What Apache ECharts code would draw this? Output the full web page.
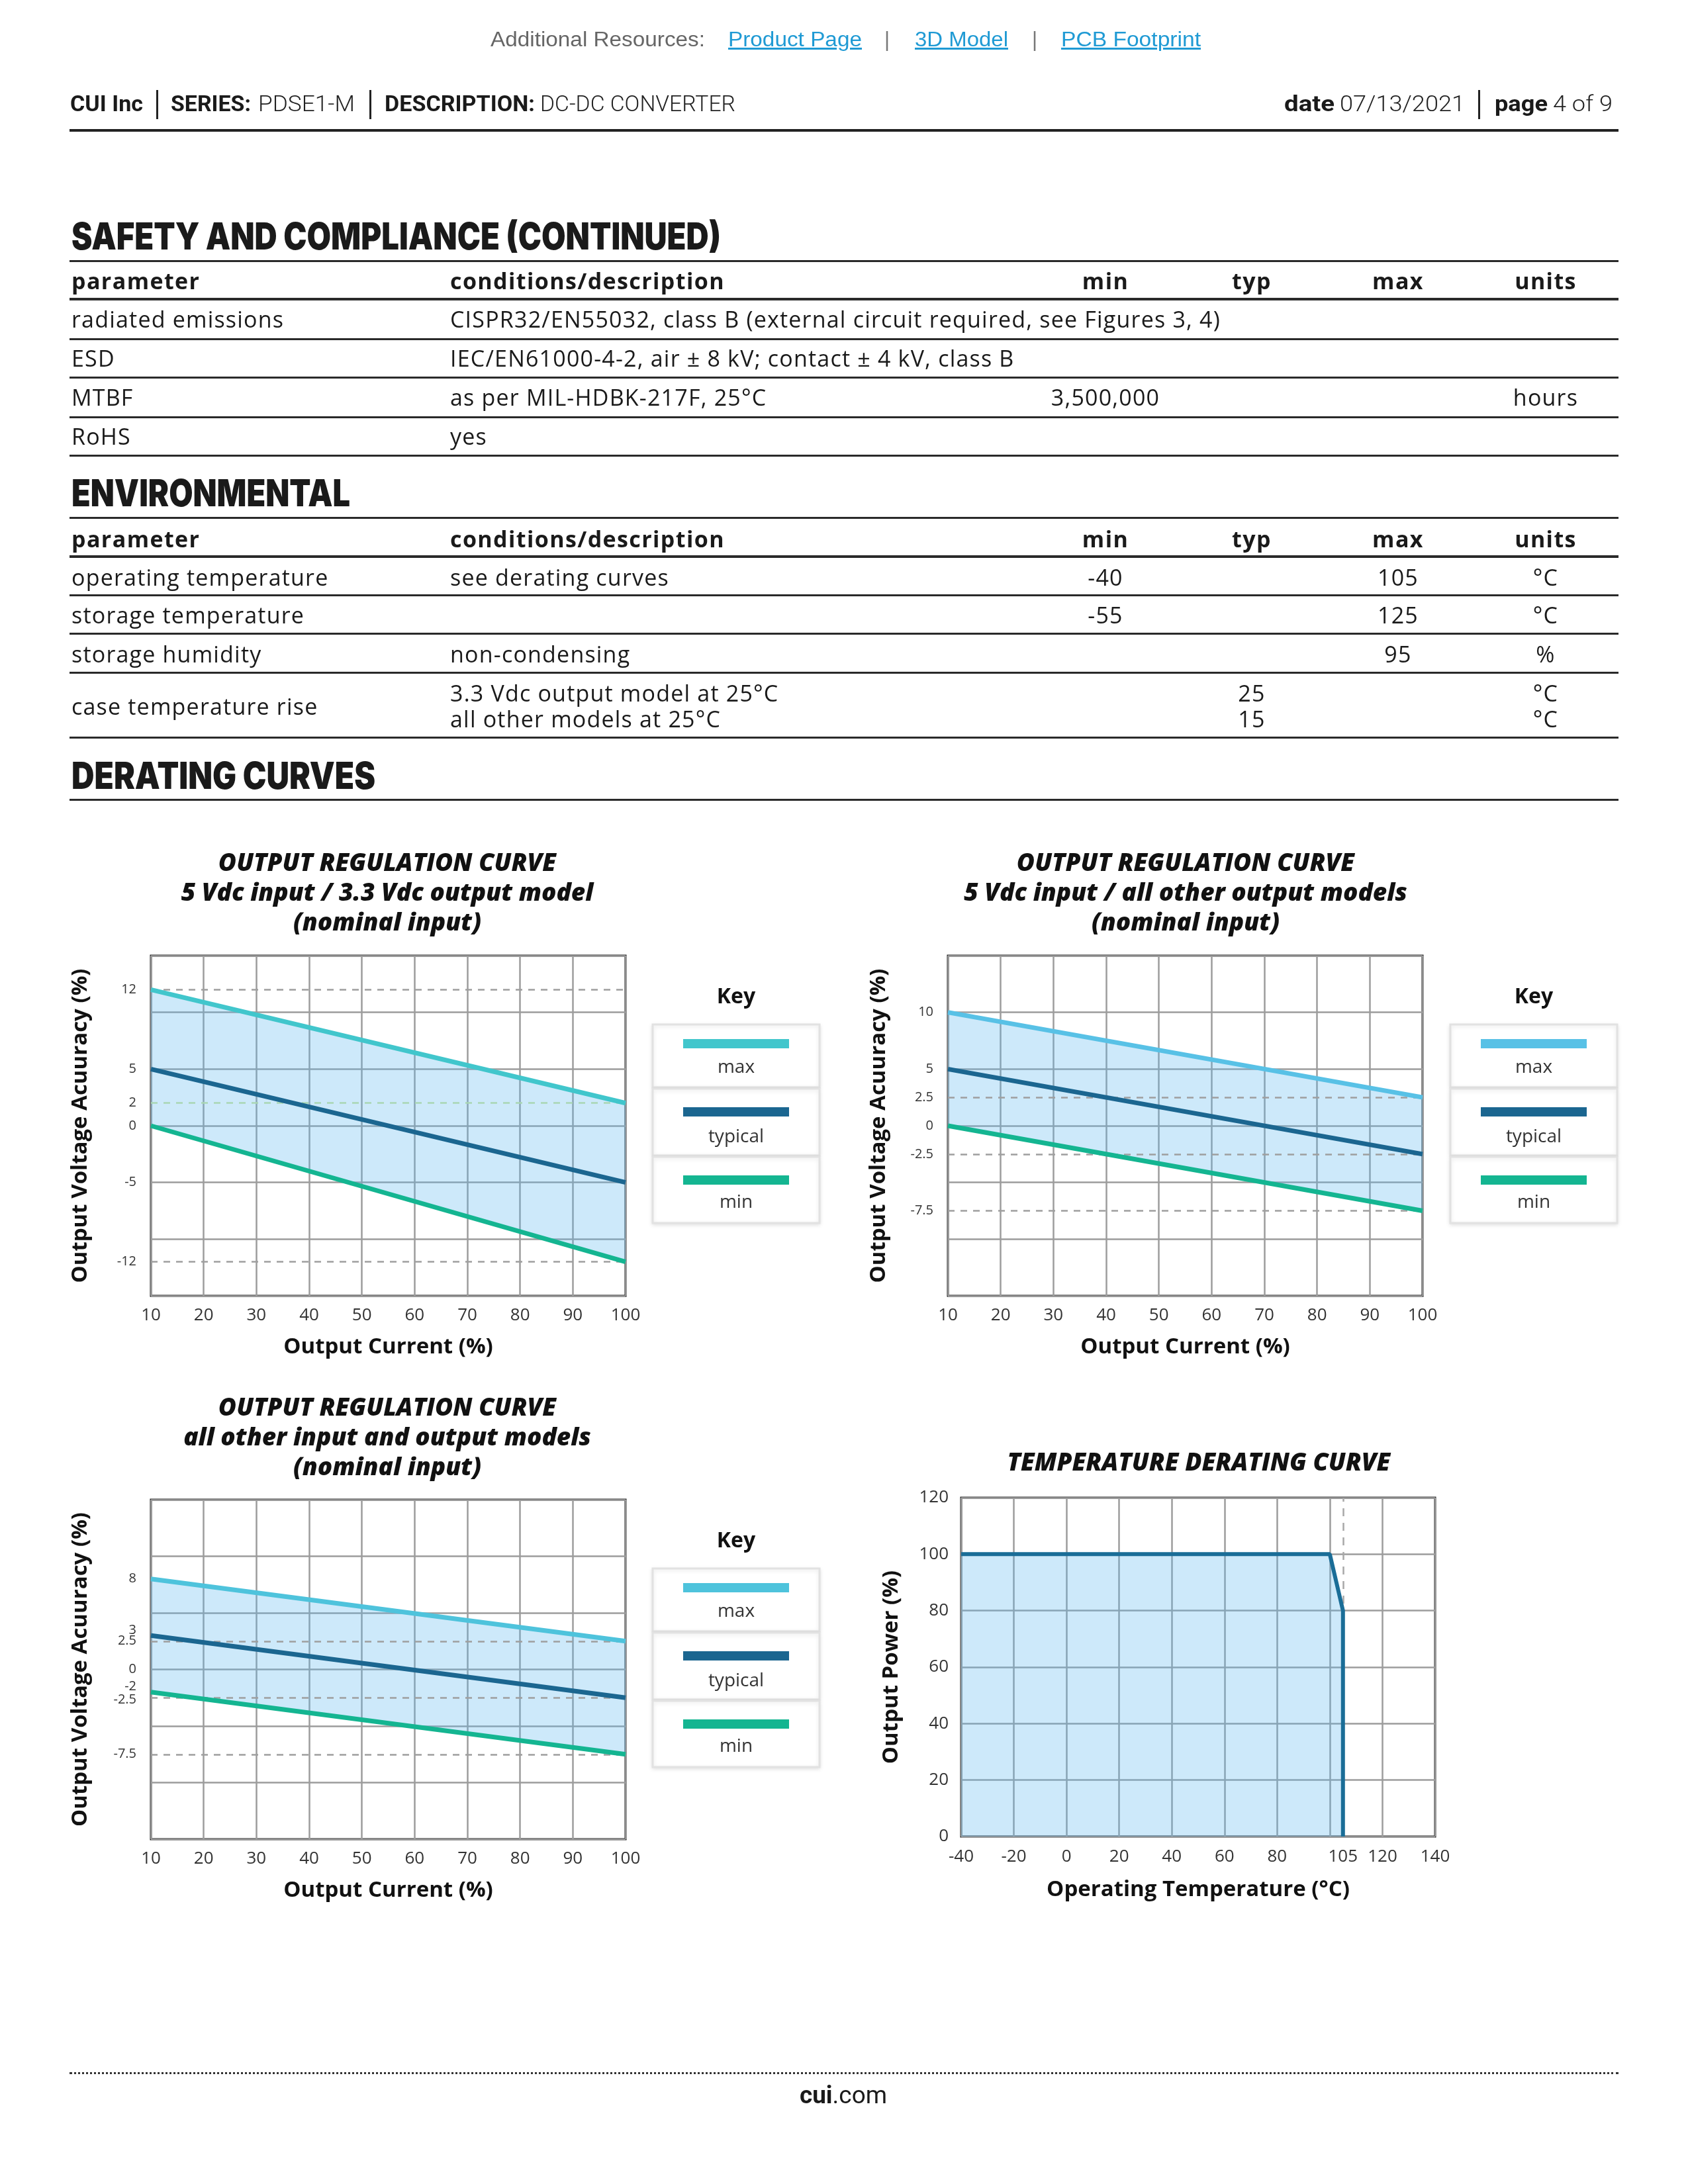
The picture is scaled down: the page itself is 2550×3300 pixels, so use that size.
<!DOCTYPE html>
<html>
<head>
<meta charset="utf-8">
<script src="https://cdn.jsdelivr.net/npm/echarts@6/dist/echarts.min.js"></script>
<style>
  html, body { margin: 0; padding: 0; background: #fff; }
  #page { position: relative; width: 2550px; height: 3300px; overflow: hidden; background: #fff; }
  #chart { position: absolute; left: 0; top: 0; width: 2550px; height: 3300px; z-index: 1; }
  .t { position: absolute; white-space: nowrap; z-index: 2; display: inline-block; }
  .ln { position: absolute; z-index: 2; }
</style>
</head>
<body>
<div id="page"><div id="chart"></div></div>
<script>
// ---------------- DATA ----------------
// Output regulation curves: output current (%) endpoints
const CURRENT = [10, 100];
// 5 Vdc input / 3.3 Vdc output model
const MAX_33 = [12, 2];
const TYP_33 = [5, -5];
const MIN_33 = [0, -12];
const TICKS_33 = [12, 5, 2, 0, -5, -12];
const DASH_33 = [12, 2, -12];
// 5 Vdc input / all other output models
const MAX_5V = [10, 2.5];
const TYP_5V = [5, -2.5];
const MIN_5V = [0, -7.5];
const TICKS_5V = [10, 5, 2.5, 0, -2.5, -7.5];
const DASH_5V = [2.5, -2.5, -7.5];
// all other input and output models
const MAX_OTH = [8, 2.5];
const TYP_OTH = [3, -2.5];
const MIN_OTH = [-2, -7.5];
const TICKS_OTH = [8, 3, 2.5, 0, -2, -2.5, -7.5];
const DASH_OTH = [2.5, -2.5, -7.5];
// Temperature derating curve
const TEMP = [-40, 100, 105, 105];
const POWER = [100, 100, 80, 0];
const TEMP_TICKS = [-40, -20, 0, 20, 40, 60, 80, 105, 120, 140];
const TEMP_DASH = [105];

// Tables
const TABLE_HEAD = ['parameter', 'conditions/description', 'min', 'typ', 'max', 'units'];
const SAFETY_ROWS = [
  ['radiated emissions', 'CISPR32/EN55032, class B (external circuit required, see Figures 3, 4)', '', '', '', ''],
  ['ESD', 'IEC/EN61000-4-2, air ± 8 kV; contact ± 4 kV, class B', '', '', '', ''],
  ['MTBF', 'as per MIL-HDBK-217F, 25°C', '3,500,000', '', '', 'hours'],
  ['RoHS', 'yes', '', '', '', '']
];
const ENV_ROWS = [
  ['operating temperature', 'see derating curves', '-40', '', '105', '°C'],
  ['storage temperature', '', '-55', '', '125', '°C'],
  ['storage humidity', 'non-condensing', '', '', '95', '%'],
  ['case temperature rise', ['3.3 Vdc output model at 25°C', 'all other models at 25°C'], '', ['25', '15'], '', ['°C', '°C']]
];

// ---------------- PAGE TEXT ----------------
const page = document.getElementById('page');
const fits = [];
function T(txt, x, y, o) {
  o = o || {};
  const size = o.size || 34;
  const d = document.createElement('div');
  d.className = 't';
  if (o.html) d.innerHTML = txt; else d.textContent = txt;
  d.style.fontFamily = o.family || '"Open Sans", sans-serif';
  d.style.fontSize = size + 'px';
  d.style.fontWeight = o.weight || 400;
  d.style.color = o.color || '#1a1a1a';
  d.style.lineHeight = (size * 1.3) + 'px';
  d.style.top = (y - size * 0.65 + (o.dy || 0)) + 'px';
  if (o.ls != null) d.style.letterSpacing = o.ls + 'px';
  if (o.underline) d.style.textDecoration = 'underline';
  d.style.left = x + 'px';
  if (o.align === 'center') d.style.transform = 'translateX(-50%)';
  page.appendChild(d);
  if (o.w) fits.push([d, o.w]);
  return d;
}
function L(x1, x2, y, h, color, style) {
  const d = document.createElement('div');
  d.className = 'ln';
  d.style.left = x1 + 'px';
  d.style.width = (x2 - x1) + 'px';
  d.style.top = (y - h / 2) + 'px';
  if (style === 'dotted') {
    d.style.height = '0px';
    d.style.borderTop = h + 'px dotted ' + color;
  } else {
    d.style.height = h + 'px';
    d.style.background = color;
  }
  page.appendChild(d);
}
function V(x, y1, y2, w, color) {
  const d = document.createElement('div');
  d.className = 'ln';
  d.style.left = (x - w / 2) + 'px';
  d.style.width = w + 'px';
  d.style.top = y1 + 'px';
  d.style.height = (y2 - y1) + 'px';
  d.style.background = color;
  page.appendChild(d);
}

// Additional resources line
const ARIAL = '"Liberation Sans", Arial, sans-serif';
const LINK = '#1f9ad4';
T('Additional Resources:', 741, 60, {family: ARIAL, size: 31, color: '#666', w: 324});
T('Product Page', 1100, 60, {family: ARIAL, size: 31, color: LINK, underline: true, w: 202});
T('|', 1340, 60, {family: ARIAL, size: 31, color: '#777', align: 'center'});
T('3D Model', 1382, 60, {family: ARIAL, size: 31, color: LINK, underline: true, w: 141});
T('|', 1563, 60, {family: ARIAL, size: 31, color: '#777', align: 'center'});
T('PCB Footprint', 1603, 60, {family: ARIAL, size: 31, color: LINK, underline: true, w: 211});

// Header line
const HDR = 'Roboto, "Liberation Sans", sans-serif';
T('CUI Inc', 106, 156, {family: HDR, size: 34, weight: 700, color: '#1a1a1a', w: 110});
V(237, 136, 180, 3, '#222');
T('SERIES:', 258, 156, {family: HDR, size: 34, weight: 700, color: '#1a1a1a', w: 121});
T('PDSE1-M', 390, 156, {family: HDR, size: 34, weight: 300, color: '#222', w: 146});
V(559, 136, 180, 3, '#222');
T('DESCRIPTION:', 581, 156, {family: HDR, size: 34, weight: 700, color: '#1a1a1a', w: 227});
T('DC-DC CONVERTER', 816, 156, {family: HDR, size: 34, weight: 300, color: '#222', w: 295});
T('date', 1940, 156, {family: HDR, size: 34, weight: 700, color: '#1a1a1a', w: 76});
T('07/13/2021', 2024, 156, {family: HDR, size: 34, weight: 300, color: '#222', w: 189});
V(2234, 136, 180, 3, '#222');
T('page', 2258, 156, {family: HDR, size: 34, weight: 700, color: '#1a1a1a', w: 80});
T('4 of 9', 2346, 156, {family: HDR, size: 34, weight: 300, color: '#222', w: 90});
L(105, 2445, 197, 4, '#222');

// Section headings
const HEAD = 'Inter, Roboto, "Liberation Sans", sans-serif';
T('SAFETY AND COMPLIANCE (CONTINUED)', 108, 357, {family: HEAD, size: 56, weight: 900, color: '#1a1a1a', w: 981});
T('ENVIRONMENTAL', 108, 745, {family: HEAD, size: 56, weight: 900, color: '#1a1a1a', w: 421});
T('DERATING CURVES', 108, 1172, {family: HEAD, size: 56, weight: 900, color: '#1a1a1a', w: 459});

// Table columns
const COLX = [108, 680, 1670, 1891, 2112, 2335];
const COLALIGN = ['left', 'left', 'center', 'center', 'center', 'center'];
function rowText(cells, y, bold, y2) {
  const o = (i) => ({weight: bold ? 700 : 400, align: COLALIGN[i], ls: bold ? 1.4 : 1.2});
  cells.forEach((c, i) => {
    if (Array.isArray(c)) {
      T(c[0], COLX[i], y, o(i));
      T(c[1], COLX[i], y2, o(i));
    } else if (c !== '') {
      T(c, COLX[i], y, o(i));
    }
  });
}
// Safety table
L(105, 2445, 394, 3, '#2a2a2a');
rowText(TABLE_HEAD, 424, true);
L(105, 2445, 452, 4, '#2a2a2a');
const SY = [482, 541, 600, 659];
const SL = [512, 570, 630, 688];
SAFETY_ROWS.forEach((r, i) => { rowText(r, SY[i], false); L(105, 2445, SL[i], 3, '#2a2a2a'); });
// Environmental table
L(105, 2445, 782, 3, '#2a2a2a');
rowText(TABLE_HEAD, 814, true);
L(105, 2445, 841, 4, '#2a2a2a');
const EY = [872, 929, 988];
const EL = [899, 957, 1016];
ENV_ROWS.slice(0, 3).forEach((r, i) => { rowText(r, EY[i], false); L(105, 2445, EL[i], 3, '#2a2a2a'); });
{
  const r = ENV_ROWS[3];
  T(r[0], COLX[0], 1067, {ls: 1.2});
  rowText(['', r[1], r[2], r[3], r[4], r[5]], 1047, false, 1086);
  L(105, 2445, 1114, 3, '#2a2a2a');
}
L(105, 2445, 1208, 3, '#2a2a2a');

// Footer
L(105, 2445, 3132, 3, '#333', 'dotted');
T('<b>cui</b>.com', 1208, 3166, {html: true, family: HDR, size: 36, weight: 400, color: '#1a1a1a', w: 132});

// fit widths
fits.forEach(([d, w]) => {
  const w0 = d.getBoundingClientRect().width;
  if (w0 > 0) {
    d.style.transformOrigin = 'left center';
    d.style.transform = 'scaleX(' + (w / w0) + ')';
  }
});

// ---------------- CHARTS ----------------
const FILL = 'rgba(88,182,238,0.30)';
const COL = {
  max: ['#41c6cc', '#58c1e6', '#4ec3dc'],
  typ: '#1b6690',
  min: '#14b591'
};
const FONT = '"Open Sans", sans-serif';

function pairs(xs, ys) { return xs.map((x, i) => [x, ys[i]]); }

const GRIDS = [
  {left: 228, top: 1444, width: 717, height: 514},
  {left: 1432, top: 1444, width: 717, height: 514},
  {left: 228, top: 2266, width: 717, height: 513},
  {left: 1452, top: 2263, width: 716, height: 512}
];
const REG = [
  {max: MAX_33, typ: TYP_33, min: MIN_33, ticks: TICKS_33, dash: DASH_33, nameGap: 106},
  {max: MAX_5V, typ: TYP_5V, min: MIN_5V, ticks: TICKS_5V, dash: DASH_5V, nameGap: 104},
  {max: MAX_OTH, typ: TYP_OTH, min: MIN_OTH, ticks: TICKS_OTH, dash: DASH_OTH, nameGap: 106}
];

const splitLine = {show: true, lineStyle: {color: '#9c9c9c', width: 2.5}};
const nameStyle = {fontFamily: FONT, fontSize: 33, fontWeight: 'bold', color: '#111', verticalAlign: 'middle'};

const xAxis = [], yAxis = [], series = [];
REG.forEach((c, i) => {
  xAxis.push({
    gridIndex: i, type: 'value', min: 10, max: 100, interval: 10,
    axisLine: {show: false}, axisTick: {show: false}, splitLine,
    axisLabel: {fontFamily: FONT, fontSize: 26, color: '#333', margin: 17},
    name: 'Output Current (%)', nameLocation: 'middle', nameGap: 78, nameTextStyle: nameStyle
  });
  yAxis.push({
    gridIndex: i, type: 'value', min: -15, max: 15, interval: 5,
    axisLine: {show: false}, axisTick: {show: false}, splitLine,
    axisLabel: {
      customValues: c.ticks, fontFamily: FONT, fontSize: 20, color: '#333', margin: 22,
      formatter: function (v) {
        if (i === 2 && (v === 3 || v === -2)) return '{up|' + v + '}';
        if (i === 2 && v === -2.5) return '{dn|' + v + '}';
        return String(v);
      },
      rich: {
        up: {fontFamily: FONT, fontSize: 20, color: '#333', padding: [0, 0, 16, 0]},
        dn: {fontFamily: FONT, fontSize: 20, color: '#333', padding: [7, 0, 0, 0]}
      }
    },
    name: 'Output Voltage Acuuracy (%)', nameLocation: 'middle', nameRotate: 90,
    nameGap: c.nameGap, nameTextStyle: nameStyle
  });
  // shaded band between max and min, drawn through the axes' coordinate system
  series.push({
    type: 'custom', name: 'range', xAxisIndex: i, yAxisIndex: i, silent: true, z: 1,
    data: CURRENT.map((x, k) => [x, c.max[k], c.min[k]]),
    encode: {x: 0, y: [1, 2]},
    renderItem: function (params, api) {
      if (params.dataIndex !== 0) return null;
      const top = CURRENT.map((x, k) => api.coord([x, c.max[k]]));
      const bot = CURRENT.map((x, k) => api.coord([x, c.min[k]])).reverse();
      return {type: 'polygon', shape: {points: top.concat(bot)}, style: {fill: FILL}};
    }
  });
  series.push({
    type: 'line', name: 'min', xAxisIndex: i, yAxisIndex: i, data: pairs(CURRENT, c.min),
    symbol: 'none', silent: true, z: 4,
    lineStyle: {color: COL.min, width: 7},
    markLine: {
      silent: true, symbol: 'none', z: 2, label: {show: false},
      lineStyle: {type: [10, 9], color: '#9f9f9f', width: 2.5},
      data: c.dash.map(v => (i === 0 && v === 2) ? {yAxis: v, lineStyle: {color: '#a9d6b4'}} : {yAxis: v})
    }
  });
  series.push({
    type: 'line', name: 'max', xAxisIndex: i, yAxisIndex: i, data: pairs(CURRENT, c.max),
    symbol: 'none', silent: true, z: 4, lineStyle: {color: COL.max[i], width: 7}
  });
  series.push({
    type: 'line', name: 'typical', xAxisIndex: i, yAxisIndex: i, data: pairs(CURRENT, c.typ),
    symbol: 'none', silent: true, z: 4, lineStyle: {color: COL.typ, width: 7}
  });
});
// temperature derating
xAxis.push({
  gridIndex: 3, type: 'value', min: -40, max: 140, interval: 20,
  axisLine: {show: false}, axisTick: {show: false}, splitLine,
  axisLabel: {customValues: TEMP_TICKS, fontFamily: FONT, fontSize: 26, color: '#333', margin: 18},
  name: 'Operating Temperature (°C)', nameLocation: 'middle', nameGap: 81, nameTextStyle: nameStyle
});
yAxis.push({
  gridIndex: 3, type: 'value', min: 0, max: 120, interval: 20,
  axisLine: {show: false}, axisTick: {show: false}, splitLine,
  axisLabel: {fontFamily: FONT, fontSize: 26, color: '#333', margin: 19},
  name: 'Output Power (%)', nameLocation: 'middle', nameRotate: 90, nameGap: 105, nameTextStyle: nameStyle
});
series.push({
  type: 'line', name: 'power', xAxisIndex: 3, yAxisIndex: 3, data: pairs(TEMP, POWER),
  symbol: 'none', silent: true, z: 3,
  lineStyle: {color: '#1a6d97', width: 6}, areaStyle: {color: FILL, opacity: 1},
  markLine: {
    silent: true, symbol: 'none', z: 2, label: {show: false},
    lineStyle: {type: [12, 10], color: '#a8a8a8', width: 2.5},
    data: TEMP_DASH.map(v => ({xAxis: v}))
  }
});

// graphics: titles and keys
const graphic = [];
const TITLE_FONT = {fontFamily: FONT, fontStyle: 'italic', fontWeight: 800, fontSize: 37, fill: '#111'};
function title(text, x, y) {
  graphic.push({type: 'text', silent: true, x: x, y: y, style: Object.assign({
    text: text, align: 'center', verticalAlign: 'middle', lineHeight: 45
  }, TITLE_FONT)});
}
title('OUTPUT REGULATION CURVE\n5 Vdc input / 3.3 Vdc output model\n(nominal input)', 585, 1350);
title('OUTPUT REGULATION CURVE\n5 Vdc input / all other output models\n(nominal input)', 1791, 1350);
title('OUTPUT REGULATION CURVE\nall other input and output models\n(nominal input)', 585, 2173);
title('TEMPERATURE DERATING CURVE', 1811, 2211);

const KEY_ITEMS = ['max', 'typical', 'min'];
function key(dx, dy, maxColor) {
  const children = [];
  children.push({type: 'text', x: 1112, y: 1507, style: {
    text: 'Key', align: 'center', verticalAlign: 'middle',
    fontFamily: FONT, fontWeight: 'bold', fontSize: 32, fill: '#111'}});
  const cells = [[1548, 1643], [1645, 1746], [1748, 1848]];
  const sw = [1577, 1680, 1783];
  const lab = [1613, 1718, 1817];
  const colors = [maxColor, COL.typ, COL.min];
  cells.forEach((c, j) => {
    children.push({type: 'rect', shape: {x: 986, y: c[0], width: 252, height: c[1] - c[0]},
      style: {fill: '#fff', stroke: '#e2e2e2', lineWidth: 3, shadowBlur: 6, shadowColor: 'rgba(0,0,0,0.10)', shadowOffsetY: 2}});
    children.push({type: 'rect', shape: {x: 1032, y: sw[j] - 7, width: 160, height: 14},
      style: {fill: colors[j]}});
    children.push({type: 'text', x: 1112, y: lab[j], style: {
      text: KEY_ITEMS[j], align: 'center', verticalAlign: 'middle',
      fontFamily: FONT, fontSize: 28, fill: '#333'}});
  });
  graphic.push({type: 'group', x: dx, y: dy, silent: true, children: children});
}
key(0, 0, COL.max[0]);
key(1205, 0, COL.max[1]);
key(0, 822, COL.max[2]);

const chart = echarts.init(document.getElementById('chart'), null, {renderer: 'canvas'});
chart.setOption({
  animation: false,
  backgroundColor: 'transparent',
  grid: GRIDS.map(g => Object.assign({show: true, borderColor: '#1e1e1e', borderWidth: 3, backgroundColor: '#fff', containLabel: false}, g)),
  xAxis: xAxis,
  yAxis: yAxis,
  series: series,
  graphic: graphic
});
</script>
</body>
</html>
